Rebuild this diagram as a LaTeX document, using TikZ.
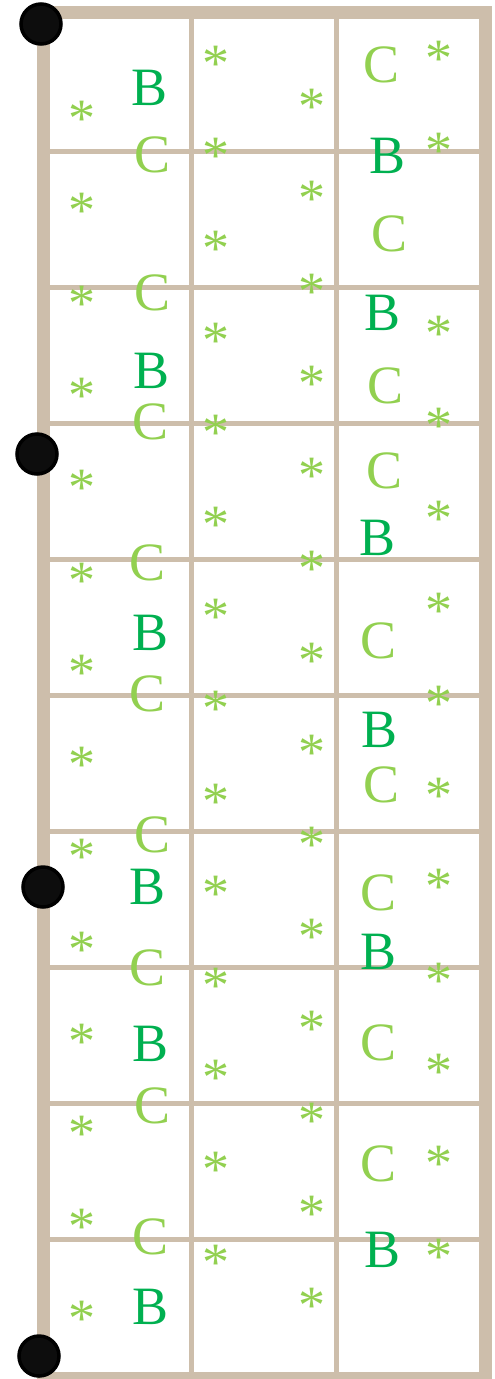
\documentclass[tikz,border=0pt]{standalone}
\usepackage{fontspec}
\setmainfont{Liberation Serif}
\definecolor{marron}{HTML}{CDBEAB}
\definecolor{verdeB}{HTML}{00B050}
\definecolor{verdeC}{HTML}{92D050}
\definecolor{negro}{HTML}{0D0D0D}
\begin{document}
\begin{tikzpicture}[
  x=1pt, y=-1pt,
  marco/.style={draw=marron, line width=13pt},
  traste/.style={draw=marron, line width=5pt},
  punto/.style={circle, draw=black, fill=negro, line width=3.5pt, inner sep=0pt, minimum size=40pt},
  notaB/.style={text=verdeB, font=\fontsize{54}{54}\selectfont, inner sep=0pt, anchor=base, yshift=-18pt},
  notaC/.style={notaB, text=verdeC},
  ast/.style={text=verdeC, font=\fontsize{54}{54}\selectfont, inner sep=0pt, anchor=base, yshift=-26pt}
]
  \useasboundingbox (0,0) rectangle (495,1379);

  % Trastes y cuerdas
  \draw[traste] (43,151) -- (485,151); \draw[traste] (43,287) -- (485,287);
  \draw[traste] (43,423) -- (485,423); \draw[traste] (43,559) -- (485,559);
  \draw[traste] (43,695) -- (485,695); \draw[traste] (43,831) -- (485,831);
  \draw[traste] (43,967) -- (485,967); \draw[traste] (43,1103) -- (485,1103);
  \draw[traste] (43,1239) -- (485,1239);
  \draw[traste] (191.5,12) -- (191.5,1378); \draw[traste] (336,12) -- (336,1378);
  \draw[marco] (43,12) rectangle (485,1378);

  % Asteriscos
  \node[ast] (a1) at (82,110) {*}; \node[ast] (a2) at (82,202) {*};
  \node[ast] (a3) at (82,295) {*}; \node[ast] (a4) at (82,387) {*};
  \node[ast] (a5) at (82,479) {*}; \node[ast] (a6) at (82,572) {*};
  \node[ast] (a7) at (82,664) {*}; \node[ast] (a8) at (82,756) {*};
  \node[ast] (a9) at (82,848) {*}; \node[ast] (a10) at (82,941) {*};
  \node[ast] (a11) at (82,1033) {*}; \node[ast] (a12) at (82,1125) {*};
  \node[ast] (a13) at (82,1218) {*}; \node[ast] (a14) at (82,1310) {*};

  \node[ast] (e1) at (216,55) {*}; \node[ast] (e2) at (216,147) {*};
  \node[ast] (e3) at (216,240) {*}; \node[ast] (e4) at (216,332) {*};
  \node[ast] (e5) at (216,424) {*}; \node[ast] (e6) at (216,516) {*};
  \node[ast] (e7) at (216,608) {*}; \node[ast] (e8) at (216,700) {*};
  \node[ast] (e9) at (216,793) {*}; \node[ast] (e10) at (216,885) {*};
  \node[ast] (e11) at (216,977) {*}; \node[ast] (e12) at (216,1069) {*};
  \node[ast] (e13) at (216,1161) {*}; \node[ast] (e14) at (216,1254) {*};

  \node[ast] (f1) at (312,98) {*}; \node[ast] (f2) at (312,190) {*};
  \node[ast] (f3) at (312,283) {*}; \node[ast] (f4) at (312,375) {*};
  \node[ast] (f5) at (312,467) {*}; \node[ast] (f6) at (312,560) {*};
  \node[ast] (f7) at (312,652) {*}; \node[ast] (f8) at (312,744) {*};
  \node[ast] (f9) at (312,836) {*}; \node[ast] (f10) at (312,928) {*};
  \node[ast] (f11) at (312,1020) {*}; \node[ast] (f12) at (312,1112) {*};
  \node[ast] (f13) at (312,1205) {*}; \node[ast] (f14) at (312,1297) {*};

  \node[ast] (g1) at (439,50) {*}; \node[ast] (g2) at (439,142) {*};
  \node[ast] (g3) at (439,325) {*}; \node[ast] (g4) at (439,417) {*};
  \node[ast] (g5) at (439,510) {*}; \node[ast] (g6) at (439,602) {*};
  \node[ast] (g7) at (439,695) {*}; \node[ast] (g8) at (439,787) {*};
  \node[ast] (g9) at (439,878) {*}; \node[ast] (g10) at (439,972) {*};
  \node[ast] (g11) at (439,1063) {*}; \node[ast] (g12) at (439,1155) {*};
  \node[ast] (g13) at (439,1248) {*};

  % Notas
  \node[notaB] (b1) at (150,87) {B}; \node[notaC] (c1) at (153,154) {C};
  \node[notaC] (c2) at (153,292) {C}; \node[notaB] (b2) at (152,370) {B};
  \node[notaC] (c3) at (151,421) {C}; \node[notaC] (c4) at (148,562) {C};
  \node[notaB] (b3) at (151,632) {B}; \node[notaC] (c5) at (148,693) {C};
  \node[notaC] (c6) at (153,834) {C}; \node[notaB] (b4) at (148,886) {B};
  \node[notaC] (c7) at (148,967) {C}; \node[notaB] (b5) at (151,1043) {B};
  \node[notaC] (c8) at (153,1105) {C}; \node[notaC] (c9) at (151,1236) {C};
  \node[notaB] (b6) at (151,1306) {B};

  \node[notaC] (c10) at (382,64) {C}; \node[notaB] (b7) at (388,155) {B};
  \node[notaC] (c11) at (390,233) {C}; \node[notaB] (b8) at (383,312) {B};
  \node[notaC] (c12) at (386,385) {C}; \node[notaC] (c13) at (385,470) {C};
  \node[notaB] (b9) at (378,537) {B}; \node[notaC] (c14) at (379,640) {C};
  \node[notaB] (b10) at (380,729) {B}; \node[notaC] (c15) at (382,784) {C};
  \node[notaC] (c16) at (379,892) {C}; \node[notaB] (b11) at (379,951) {B};
  \node[notaC] (c17) at (379,1042) {C}; \node[notaC] (c18) at (379,1163) {C};
  \node[notaB] (b12) at (383,1249) {B};

  % Puntos
  \node[punto] (d1) at (41,24) {};
  \node[punto] (d2) at (37,454) {};
  \node[punto] (d3) at (43,887) {};
  \node[punto] (d4) at (39,1356) {};
\end{tikzpicture}
\end{document}
